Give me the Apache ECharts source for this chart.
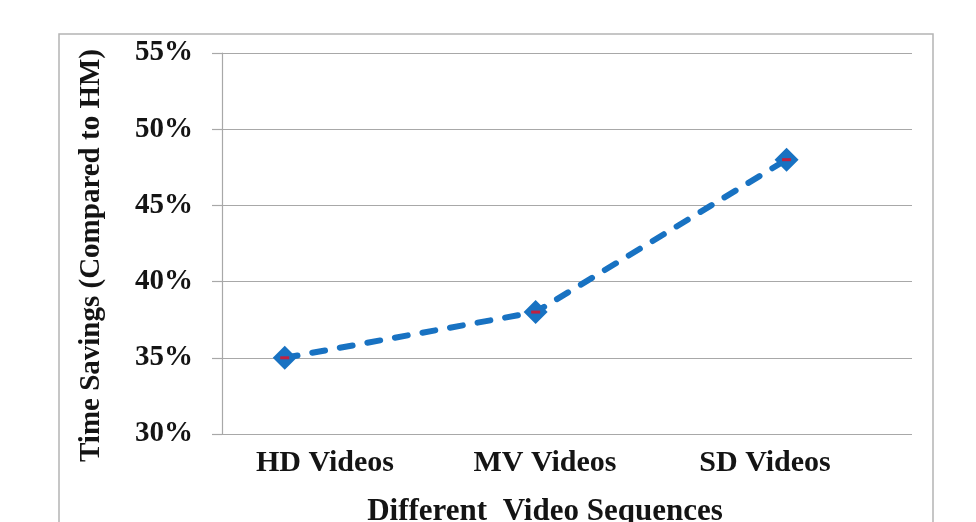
<!DOCTYPE html>
<html>
<head>
<meta charset="utf-8">
<script src="https://cdn.jsdelivr.net/npm/echarts@6/dist/echarts.min.js"></script>
<style>
  html, body { margin: 0; padding: 0; background: #fff; }
  #chart { width: 976px; height: 522px; }
</style>
</head>
<body>
<div id="chart"></div>
<script>
// Video sequence groups and measured time savings (%)
const categories = ['HD Videos', 'MV Videos', 'SD Videos'];
const timeSavings = [35, 38, 48];
const yTicks = { min: 30, max: 55, step: 5 };

const serif = '"Liberation Serif", "Times New Roman", serif';
const gridGray = '#a8a8a8';
const lineBlue = '#1872c2';
const textColor = '#141414';

const points = timeSavings.map((v, i) => [i, v]);

const chart = echarts.init(document.getElementById('chart'), null, { renderer: 'canvas' });

chart.setOption({
  backgroundColor: '#ffffff',
  animation: false,
  graphic: [{
    type: 'rect',
    shape: { x: 59, y: 34, width: 874, height: 520 },
    style: { fill: 'none', stroke: '#b4b4b4', lineWidth: 1.5 },
    silent: true
  }],
  grid: [
    { left: 222, right: 64, top: 53, bottom: 88, containLabel: false, outerBoundsMode: 'none' },
    { left: 215, right: 101, top: 53, bottom: 88, containLabel: false, outerBoundsMode: 'none' }
  ],
  xAxis: [
    {
      type: 'value', gridIndex: 0, min: -0.25, max: 2.5,
      show: false
    },
    {
      type: 'category', gridIndex: 1, data: categories, boundaryGap: true,
      axisLine: { show: false }, axisTick: { show: false }, splitLine: { show: false },
      axisLabel: {
        fontFamily: serif, fontWeight: 'bold', fontSize: 30, color: textColor, margin: 14
      },
      name: 'Different  Video Sequences',
      nameLocation: 'middle', nameGap: 62,
      nameTextStyle: { fontFamily: serif, fontWeight: 'bold', fontSize: 31, color: textColor }
    }
  ],
  yAxis: [
    {
      type: 'value', gridIndex: 0,
      min: yTicks.min, max: yTicks.max, interval: yTicks.step,
      axisLine: { show: true, onZero: false, lineStyle: { color: gridGray, width: 1.2 } },
      axisTick: { show: true, length: 10, lineStyle: { color: gridGray, width: 1.2 } },
      splitLine: { show: true, lineStyle: { color: gridGray, width: 1.2 } },
      axisLabel: {
        formatter: '{value}%', fontFamily: serif, fontWeight: 'bold', fontSize: 29,
        color: textColor, margin: 29
      },
      name: 'Time Savings (Compared to HM)',
      nameLocation: 'middle', nameRotate: 90, nameGap: 116,
      nameTextStyle: {
        fontFamily: serif, fontWeight: 'bold', fontSize: 29, color: textColor,
        padding: [0, 24, 0, 0]
      }
    },
    {
      type: 'value', gridIndex: 1, min: yTicks.min, max: yTicks.max, show: false
    }
  ],
  series: [
    {
      type: 'line', xAxisIndex: 0, yAxisIndex: 0, data: points,
      symbol: 'diamond', symbolSize: 24,
      itemStyle: { color: lineBlue },
      lineStyle: { color: lineBlue, width: 6, type: [13, 15], cap: 'round' },
      z: 3
    },
    {
      type: 'line', xAxisIndex: 0, yAxisIndex: 0, data: points,
      symbol: 'rect', symbolSize: [9, 3],
      itemStyle: { color: '#c02040' },
      lineStyle: { width: 0, opacity: 0 },
      z: 4
    }
  ]
});
</script>
</body>
</html>
